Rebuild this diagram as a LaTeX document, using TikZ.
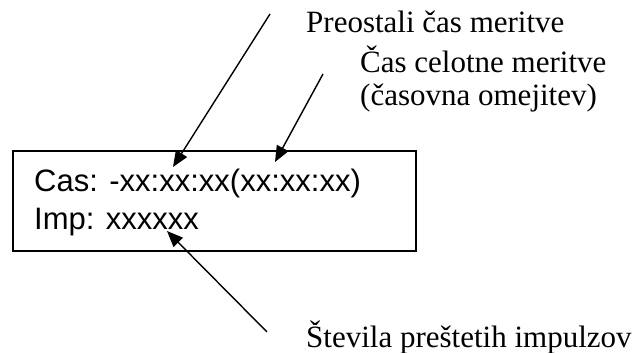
\documentclass[tikz,border=0pt]{standalone}
\usepackage{fontspec}
\setmainfont{Liberation Serif}
\newfontfamily\arialfont{Liberation Sans}
\usetikzlibrary{arrows.meta}
\begin{document}
\begin{tikzpicture}[x=1pt,y=1pt,
  lbl/.style={inner sep=0pt,anchor=base west,font=\fontsize{31}{34}\selectfont},
  boxtxt/.style={inner sep=0pt,anchor=base west,font=\arialfont\fontsize{31}{34}\selectfont},
  ptr/.style={line width=1.4pt,-{Triangle[length=16pt,width=13pt]}}]
\useasboundingbox (0,0) rectangle (643,353);
\node[draw,line width=1.5pt,minimum width=403pt,minimum height=100pt,inner sep=0pt] (box) at (214.35,152) {};
\node[boxtxt] (cas) at (34,161.5) {Cas: -xx:xx:xx(xx:xx:xx)};
\node[boxtxt] (imp) at (34,123) {Imp: xxxxxx};
\node[lbl] (pre) at (306,320) {Preostali čas meritve};
\node[lbl] (cel) at (360,280.3) {Čas celotne meritve};
\node[lbl] (omj) at (360,247) {(časovna omejitev)};
\node[lbl] (stev) at (306,5) {Števila preštetih impulzov};
\coordinate (s1) at (270,339);
\coordinate (t1) at (173,186);
\coordinate (s2) at (323,279);
\coordinate (t2) at (275,191);
\coordinate (s3) at (267,21);
\coordinate (t3) at (167,122);
\draw[ptr] (s1) -- (t1);
\draw[ptr] (s2) -- (t2);
\draw[ptr] (s3) -- (t3);
\end{tikzpicture}
\end{document}
